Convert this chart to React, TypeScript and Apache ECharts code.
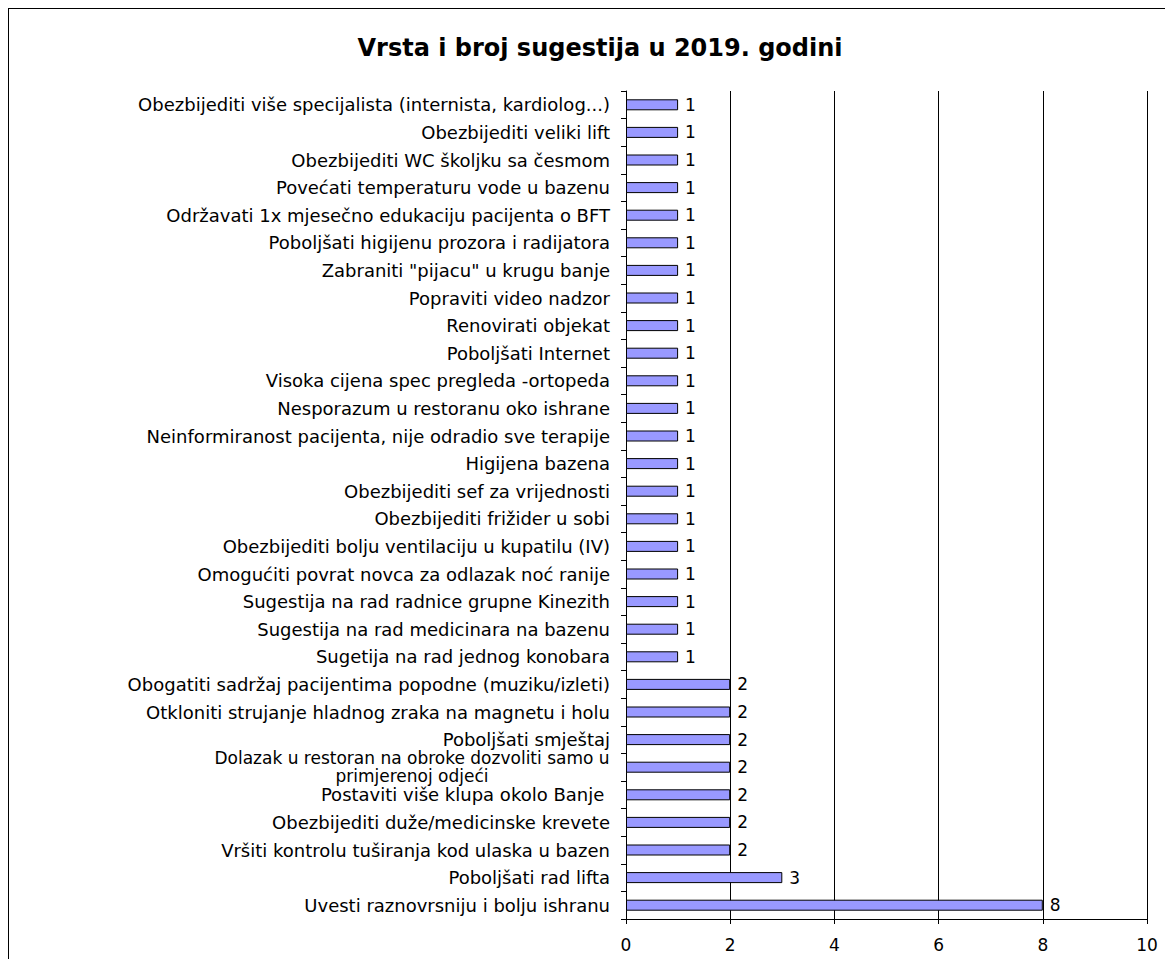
import React, { useEffect, useRef } from "react";
import * as echarts from "echarts";

const TITLE = "Vrsta i broj sugestija u 2019. godini";

const categories: string[] = [
  "Obezbijediti više specijalista (internista, kardiolog...)",
  "Obezbijediti veliki lift",
  "Obezbijediti WC školjku sa česmom",
  "Povećati temperaturu vode u bazenu",
  "Održavati 1x mjesečno edukaciju pacijenta o BFT",
  "Poboljšati higijenu prozora i radijatora",
  "Zabraniti \"pijacu\" u krugu banje",
  "Popraviti video nadzor",
  "Renovirati objekat",
  "Poboljšati Internet",
  "Visoka cijena spec pregleda -ortopeda",
  "Nesporazum u restoranu oko ishrane",
  "Neinformiranost pacijenta, nije odradio sve terapije",
  "Higijena bazena",
  "Obezbijediti sef za vrijednosti",
  "Obezbijediti frižider u sobi",
  "Obezbijediti bolju ventilaciju u kupatilu (IV)",
  "Omogućiti povrat novca za odlazak noć ranije",
  "Sugestija na rad radnice grupne Kinezith",
  "Sugestija na rad medicinara na bazenu",
  "Sugetija na rad jednog konobara",
  "Obogatiti sadržaj pacijentima popodne (muziku/izleti)",
  "Otkloniti strujanje hladnog zraka na magnetu i holu",
  "Poboljšati smještaj",
  "Dolazak u restoran na obroke dozvoliti samo u\nprimjerenoj odjeći",
  "Postaviti više klupa okolo Banje ",
  "Obezbijediti duže/medicinske krevete",
  "Vršiti kontrolu tuširanja kod ulaska u bazen",
  "Poboljšati rad lifta",
  "Uvesti raznovrsniju i bolju ishranu",
];

const values: number[] = [
  1, 1, 1, 1, 1, 1, 1, 1, 1, 1, 1, 1, 1, 1, 1, 1, 1, 1, 1, 1, 1,
  2, 2, 2, 2, 2, 2, 2, 3, 8,
];

const xTicks = { min: 0, max: 10, interval: 2 };

const FONT = "DejaVu Sans";
const LABEL_SIZE = 18;
const WRAP_SIZE = 17;

function measure(text: string, font: string): number {
  const c = document.createElement("canvas");
  const ctx = c.getContext("2d");
  if (!ctx) return text.length * 9;
  ctx.font = font;
  return ctx.measureText(text).width;
}

export default function App() {
  const ref = useRef<HTMLDivElement>(null);

  useEffect(() => {
    if (!ref.current) return;
    const chart = echarts.init(ref.current, undefined, { renderer: "svg" });

    const wrapW = Math.ceil(
      Math.max(
        ...categories
          .filter((c) => c.includes("\n"))
          .flatMap((c) => c.split("\n"))
          .map((l) => measure(l, `${WRAP_SIZE}px "${FONT}"`))
      )
    );

    chart.setOption({
      animation: false,
      backgroundColor: "#ffffff",
      title: {
        text: TITLE,
        left: 591,
        top: 27,
        padding: 0,
        textAlign: "center",
        textStyle: {
          fontFamily: FONT,
          fontWeight: "bold",
          fontSize: 24,
          color: "#000",
        },
      },
      grid: {
        left: 617,
        right: 26,
        top: 82,
        bottom: 40,
        containLabel: false,
      },
      xAxis: {
        type: "value",
        min: xTicks.min,
        max: xTicks.max,
        interval: xTicks.interval,
        axisLine: { show: true, lineStyle: { color: "#000", width: 1 } },
        axisTick: { show: true, length: 5, lineStyle: { color: "#000" } },
        splitLine: { show: true, lineStyle: { color: "#000", width: 1 } },
        axisLabel: {
          margin: 17,
          fontFamily: FONT,
          fontSize: 17,
          color: "#000",
        },
      },
      yAxis: {
        type: "category",
        inverse: true,
        data: categories,
        axisLine: { show: true, lineStyle: { color: "#000", width: 1 } },
        axisTick: {
          show: true,
          length: 5,
          interval: 0,
          alignWithLabel: false,
          lineStyle: { color: "#000" },
        },
        axisLabel: {
          interval: 0,
          margin: 16,
          fontFamily: FONT,
          fontSize: LABEL_SIZE,
          color: "#000",
          align: "right",
          formatter: (v: string) => {
            if (v.includes("\n")) {
              return v
                .split("\n")
                .map((l) => `{c|${l}}`)
                .join("\n");
            }
            return v;
          },
          rich: {
            c: {
              width: wrapW,
              align: "center",
              fontFamily: FONT,
              fontSize: WRAP_SIZE,
              lineHeight: 18,
              color: "#000",
            },
          },
        },
      },
      series: [
        {
          type: "bar",
          data: values,
          barWidth: 11,
          itemStyle: {
            color: "#9999FF",
            borderColor: "#000",
            borderWidth: 1,
          },
          label: {
            show: true,
            position: "right",
            distance: 7,
            fontFamily: FONT,
            fontSize: 17,
            color: "#000",
          },
        },
      ],
    });

    return () => chart.dispose();
  }, []);

  return (
    <div
      ref={ref}
      style={{
        width: 1164,
        height: 950,
        borderTop: "1px solid #000",
        borderLeft: "1px solid #000",
      }}
    />
  );
}
